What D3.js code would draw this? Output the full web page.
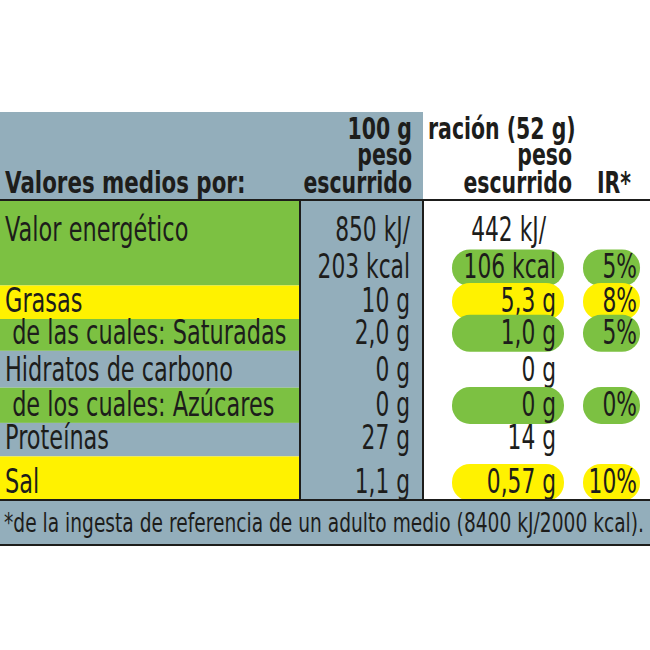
<!DOCTYPE html>
<html><head><meta charset="utf-8">
<script src="https://cdn.jsdelivr.net/npm/d3@7"></script>
<style>body{margin:0;background:#fff}text{font-family:"DejaVu Sans",sans-serif;fill:#1d1d1b}</style>
</head><body>
<svg id="c" width="650" height="650"></svg>
<script>
// Nutrient rows and values
var nutrients = ["Valor energético", "Grasas", " de las cuales: Saturadas", "Hidratos de carbono", " de los cuales: Azúcares", "Proteínas", "Sal"];
var per100 = [["850 kJ/", "203 kcal"], ["10 g"], ["2,0 g"], ["0 g"], ["0 g"], ["27 g"], ["1,1 g"]];
var perServing = [["442 kJ/", "106 kcal"], ["5,3 g"], ["1,0 g"], ["0 g"], ["0 g"], ["14 g"], ["0,57 g"]];
var irPercent = ["5%", "8%", "5%", "", "0%", "", "10%"];
var rowColor = ["green", "yellow", "green", "", "green", "", "yellow"];
var rowLines = [2.55, 1, 0.95, 1.1, 1.05, 1, 1.3];

var colors = {green: "#7cc142", yellow: "#fff200", grey: "#93aebb"};
var svg = d3.select("#c");
var ink = "#1d1d1b";

var cum = [0];
rowLines.forEach(function(l, i) { cum.push(cum[i] + l); });
var y = d3.scaleLinear().domain([0, cum[cum.length - 1]]).range([200, 500]);
var x = d3.scaleLinear().domain([0, 1, 2, 3]).range([0, 300, 423, 650]);

svg.append("rect").attr("x", 0).attr("y", 112).attr("width", x(2)).attr("height", 88).attr("fill", colors.grey);
svg.append("rect").attr("x", x(1)).attr("y", 200).attr("width", x(2) - x(1)).attr("height", 300).attr("fill", colors.grey);

nutrients.forEach(function(n, i) {
    svg.append("rect").attr("x", 0).attr("y", y(cum[i])).attr("width", x(1))
        .attr("height", y(cum[i + 1]) - y(cum[i]))
        .attr("fill", rowColor[i] ? colors[rowColor[i]] : colors.grey);
});

svg.append("rect").attr("x", 0).attr("y", 500).attr("width", 650).attr("height", 45).attr("fill", colors.grey);

// condensed text: squeeze horizontally around the anchor point
function t(txt, px, py, anchor, size, weight, sx) {
    return svg.append("text")
        .attr("transform", "translate(" + px + "," + py + ") scale(" + (sx || 0.66) + ",1)")
        .attr("text-anchor", anchor || "start")
        .attr("font-size", size || 29).attr("font-weight", weight || "normal")
        .style("white-space", "pre").text(txt);
}
t("Valores medios por:", 5, 193, "start", 31, "bold", 0.69);
t("100 g", 412, 139, "end", 31, "bold");
t("peso", 412, 165, "end", 31, "bold");
t("escurrido", 412, 193, "end", 31, "bold");
t("ración (52 g)", 428, 139, "start", 31, "bold");
t("peso", 572, 165, "end", 31, "bold");
t("escurrido", 572, 193, "end", 31, "bold");
t("IR*", 597, 193, "start", 31, "bold");

var fs = 33;
nutrients.forEach(function(n, i) {
    var top = y(cum[i]), bot = y(cum[i + 1]);
    var lastBase = bot - 7;
    var base = i === 0 ? top + 41 : lastBase;
    t(n, 5, base, "start", fs, "normal", 0.68);
    var lines = per100[i];
    t(lines[0], 410, base, "end", fs);
    if (lines.length === 2) t(lines[1], 410, lastBase, "end", fs);

    var s = perServing[i];
    var pillY = lastBase - 29;
    if (rowColor[i]) {
        svg.append("rect").attr("x", 452).attr("y", pillY).attr("width", 112).attr("height", 37)
            .attr("rx", 18).attr("fill", colors[rowColor[i]]);
        if (irPercent[i])
            svg.append("rect").attr("x", 583).attr("y", pillY).attr("width", 57).attr("height", 37)
                .attr("rx", 18).attr("fill", colors[rowColor[i]]);
    }
    if (s.length === 2) {
        t(s[0], 546, base, "end", fs);
        t(s[1], 556, lastBase, "end", fs);
    } else t(s[0], 556, base, "end", fs);
    if (irPercent[i]) t(irPercent[i], 637, lastBase, "end", fs);
});

[200, 500, 545].forEach(function(ly) {
    svg.append("line").attr("x1", 0).attr("x2", 650).attr("y1", ly).attr("y2", ly).attr("stroke", ink).attr("stroke-width", 2);
});
[1, 2].forEach(function(c) {
    svg.append("line").attr("x1", x(c)).attr("x2", x(c)).attr("y1", 200).attr("y2", 500).attr("stroke", ink).attr("stroke-width", 2);
});

t("*de la ingesta de referencia de un adulto medio (8400 kJ/2000 kcal).", 4, 532, "start", 27, "normal", 0.7)
    .attr("textLength", 640 / 0.7).attr("lengthAdjust", "spacingAndGlyphs");
</script>
</body></html>
